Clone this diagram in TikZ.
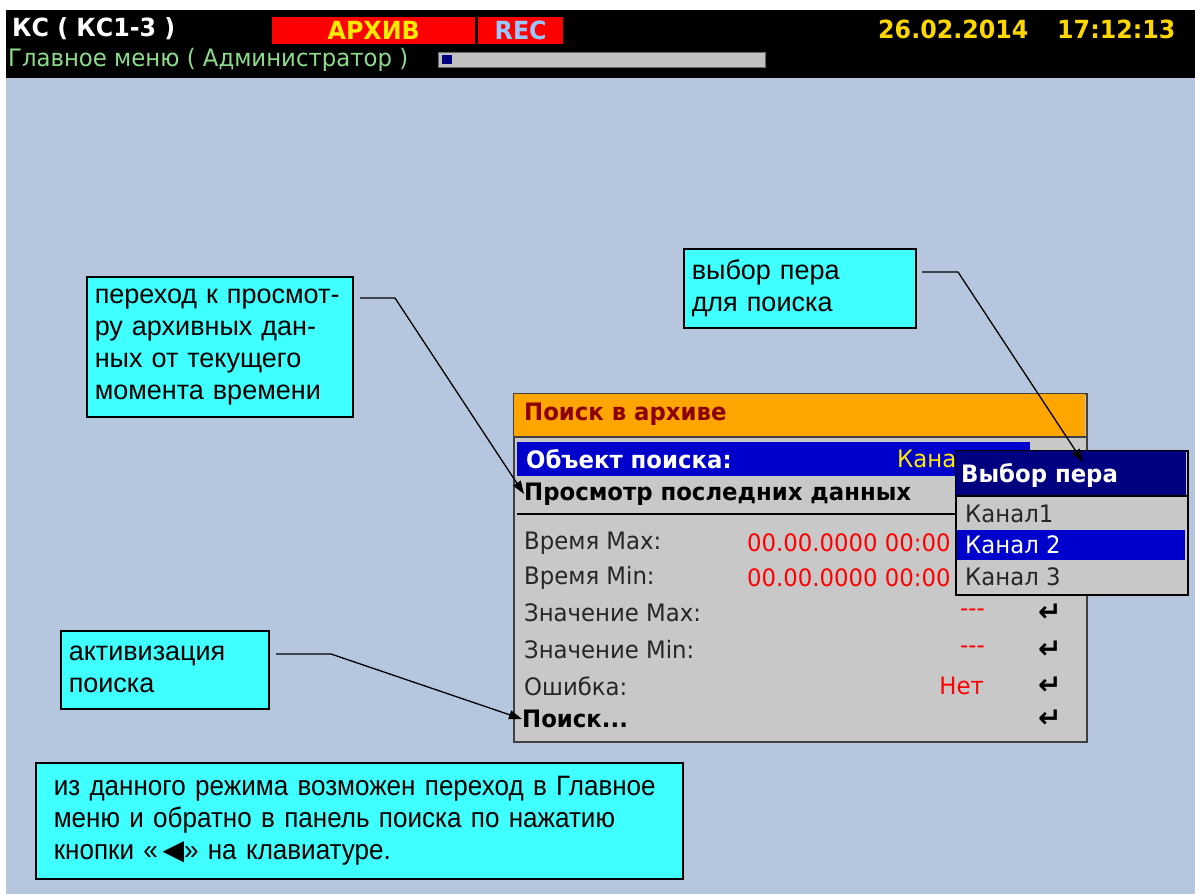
\documentclass[tikz,border=0pt]{standalone}
\usepackage{fontspec}
\usetikzlibrary{arrows.meta}
\setmainfont{Liberation Sans}
\newfontfamily\tah[FakeStretch=0.95]{DejaVu Sans}
\newfontfamily\narrowf[FakeStretch=0.93]{Liberation Sans}
\newfontfamily\symf{DejaVu Sans}
\definecolor{bg}{RGB}{182,198,223}
\definecolor{cyanbox}{RGB}{64,255,255}
\definecolor{dlg}{RGB}{200,200,200}
\definecolor{orng}{RGB}{255,165,0}
\definecolor{selblue}{RGB}{0,0,205}
\definecolor{navyc}{RGB}{0,0,128}
\definecolor{hdrgreen}{RGB}{140,220,140}
\definecolor{gold}{RGB}{255,215,0}
\definecolor{yel}{RGB}{255,235,0}
\definecolor{recblue}{RGB}{150,200,255}
\definecolor{darkred}{RGB}{140,0,0}
\definecolor{valred}{RGB}{255,0,0}
\definecolor{pgray}{RGB}{192,192,192}
\begin{document}
\begin{tikzpicture}[x=1pt,y=-1pt,
  lbl/.style={anchor=west, inner sep=0},
  rlbl/.style={anchor=east, inner sep=0},
  hdrfont/.style={font=\tah\bfseries\fontsize{25}{27}\selectfont},
  dfont/.style={font=\tah\fontsize{24}{27}\selectfont},
  dbold/.style={font=\tah\bfseries\fontsize{24}{27}\selectfont},
  callout/.style={draw=black, line width=1.5pt, fill=cyanbox, anchor=north west, inner ysep=0, align=left, font=\fontsize{27}{32}\selectfont},
  conn/.style={line width=1.3pt, -{Triangle[length=13pt,width=9pt]}},
  enter/.style={anchor=west, inner sep=0, font=\symf\bfseries\fontsize{28}{28}\selectfont},
  boxtxt/.style={anchor=north west, inner sep=0, fill=valred}
]
\useasboundingbox[fill=white] (0,0) rectangle (1195,894);
% background and header
\fill[bg] (6,78) rectangle (1195,894);
\fill[black] (6,10) rectangle (1195,78);
\node[lbl, hdrfont, text=white] (ks) at (12,29) {КС ( КС1-3 )};
\node[boxtxt, minimum width=203, minimum height=27, hdrfont, text=yel] (arch) at (272,17) {АРХИВ};
\node[boxtxt, minimum width=85, minimum height=27, hdrfont, text=recblue] (rec) at (478,17) {REC};
\node[lbl, hdrfont, text=gold] (date) at (878,29) {26.02.2014};
\node[lbl, hdrfont, text=gold] (time) at (1057,29) {17:12:13};
\node[lbl, font=\tah\fontsize{24}{27}\selectfont, text=hdrgreen] (menu) at (8,60) {Главное меню ( Администратор )};
\node[anchor=north west, inner sep=0, draw=black!60, fill=pgray, minimum width=327, minimum height=15] (prog) at (438,52) {};
\fill[navyc] (442,55) rectangle (452,64);

% dialog
\node[anchor=north west, inner sep=0, draw=black!75, line width=1.5pt, fill=dlg, minimum width=573, minimum height=348] (dlg) at (513,393) {};
\fill[orng] (514,394) rectangle (1085,437);
\draw[black!75, line width=1.2pt] (513,437) -- (1086,437);
\node[lbl, dbold, text=darkred] (title) at (524,414) {Поиск в архиве};
\fill[selblue] (517,442) rectangle (1030,476);
\node[lbl, dbold, text=white] (obj) at (526,459) {Объект поиска:};
\node[lbl, dfont, text=yel] (objv) at (897,459) {Кана};
\node[lbl, dbold, text=black] (prosm) at (524,494) {Просмотр последних данных};
\draw[black, line width=1.2pt] (517,514) -- (1083,514);
\node[lbl, dfont, text=black!85] (tmax) at (524,543) {Время Max:};
\node[lbl, dfont, text=valred] (tmaxv) at (747,543) {00.00.0000 00:00};
\node[lbl, dfont, text=black!85] (tmin) at (524,578) {Время Min:};
\node[lbl, dfont, text=valred] (tminv) at (747,578) {00.00.0000 00:00};
\node[lbl, dfont, text=black!85] (vmax) at (524,613) {Значение Max:};
\node[rlbl, dfont, text=valred] (vmaxv) at (985,613) {-{}-{}-};
\node[enter] (e1) at (1038,613) {↵};
\node[lbl, dfont, text=black!85] (vmin) at (524,650) {Значение Min:};
\node[rlbl, dfont, text=valred] (vminv) at (985,650) {-{}-{}-};
\node[enter] (e2) at (1038,650) {↵};
\node[lbl, dfont, text=black!85] (err) at (524,686) {Ошибка:};
\node[rlbl, dfont, text=valred] (errv) at (984,686) {Нет};
\node[enter] (e3) at (1038,686) {↵};
\node[lbl, dbold, text=black] (poisk) at (522,719) {Поиск...};
\node[enter] (e4) at (1038,719) {↵};

% popup
\node[anchor=north west, inner sep=0, draw=black, line width=1.5pt, fill=dlg, minimum width=232, minimum height=144] (pop) at (955,450) {};
\fill[navyc] (956,451) rectangle (1186,496);
\draw[black, line width=1.2pt] (955,496) -- (1187,496);
\node[lbl, dbold, text=white] (poph) at (961,475) {Выбор пера};
\node[lbl, dfont, text=black!85] (k1) at (965,514) {Канал1};
\fill[selblue] (957,530) rectangle (1185,560);
\node[lbl, dfont, text=white] (k2) at (965,545) {Канал 2};
\node[lbl, dfont, text=black!85] (k3) at (965,577) {Канал 3};

% callouts
\node[callout, minimum width=266, minimum height=140, text width=250, inner xsep=8] (c1) at (86,276)
  {переход к просмот-\\ру архивных дан-\\ных от текущего\\момента времени};
\node[callout, minimum width=232, minimum height=79, text width=216, inner xsep=8] (c2) at (683,248)
  {выбор пера\\для поиска};
\node[callout, minimum width=208, minimum height=78, text width=192, inner xsep=8] (c3) at (60,630)
  {активизация\\поиска};
\node[callout, minimum width=647, minimum height=116, text width=611, inner xsep=18, font=\narrowf\fontsize{28}{32}\selectfont] (c4) at (35,762)
  {из данного режима возможен переход в Главное\\меню и обратно в панель поиска по нажатию\\кнопки «\,{\symf\fontsize{28}{28}\selectfont ◀}» на клавиатуре.};

% connectors
\coordinate (a1) at (360,298);
\coordinate (b1) at (395,298);
\coordinate (a2) at (922,272);
\coordinate (b2) at (958,272);
\coordinate (t2) at (1083,462);
\coordinate (a3) at (276,654);
\coordinate (b3) at (331,654);
\draw[conn] (a1) -- (b1) -- (prosm.west);
\draw[conn] (a2) -- (b2) -- (t2);
\draw[conn] (a3) -- (b3) -- (poisk.west);
\end{tikzpicture}
\end{document}
